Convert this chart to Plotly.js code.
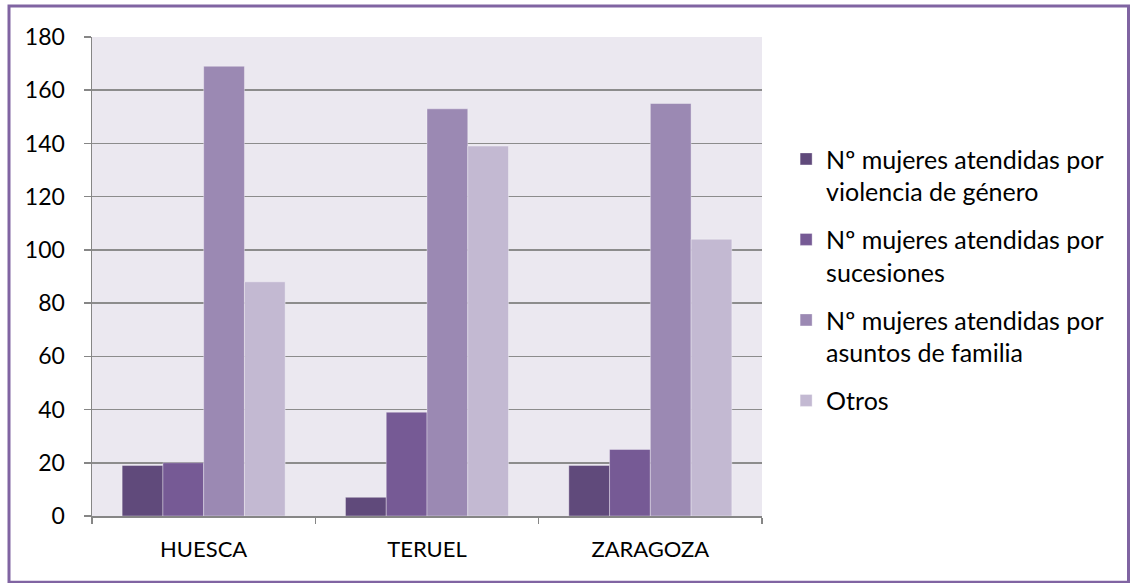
<!DOCTYPE html>
<html>
<head>
<meta charset="utf-8">
<script src="https://cdn.plot.ly/plotly-3.0.1.min.js"></script>
<style>
html,body{margin:0;padding:0;background:#fff;}
#chart{width:1130px;height:583px;}
</style>
</head>
<body>
<div id="chart"></div>
<script>
const categories = ["HUESCA", "TERUEL", "ZARAGOZA"];
const seriesNames = [
  "Nº mujeres atendidas por<br>violencia de género",
  "Nº mujeres atendidas por<br>sucesiones",
  "Nº mujeres atendidas por<br>asuntos de familia",
  "Otros"
];
const violencia = [19, 7, 19];
const sucesiones = [20, 39, 25];
const familia = [169, 153, 155];
const otros = [88, 139, 104];
const yTicks = [0, 20, 40, 60, 80, 100, 120, 140, 160, 180];

const colors = ["#604A7B", "#765A95", "#9B89B3", "#C3B9D2"];
const values = [violencia, sucesiones, familia, otros];

const traces = values.map((v, i) => ({
  type: "bar",
  name: seriesNames[i],
  x: categories,
  y: v,
  legendgroup: "g" + i,
  marker: {color: colors[i], line: {color: "rgba(255,255,255,0.35)", width: 1}},
  hoverinfo: "x+y"
}));

const FONT = "Lato, 'Open Sans', sans-serif";
const layout = {
  width: 1130, height: 583,
  margin: {l: 92, r: 368, t: 37, b: 67, pad: 0},
  paper_bgcolor: "#ffffff",
  plot_bgcolor: "#EBE8F0",
  barmode: "group",
  bargap: 0.27,
  bargroupgap: 0,
  font: {family: FONT, size: 23, color: "#000000"},
  showlegend: true,
  legend: {
    x: 1.036, xanchor: "left",
    y: 0.793, yanchor: "top",
    valign: "top",
    tracegroupgap: 12.5,
    font: {family: FONT, size: 25, color: "#000000"},
    bgcolor: "rgba(0,0,0,0)",
    itemclick: false
  },
  xaxis: {
    type: "category",
    showline: true, linecolor: "#868686", linewidth: 1.5,
    ticks: "outside", tickson: "boundaries", ticklen: 6, tickcolor: "#868686", tickwidth: 1.5,
    showgrid: false,
    tickfont: {family: FONT, size: 22, color: "#000"},
    ticklabelstandoff: 13,
    fixedrange: true
  },
  yaxis: {
    range: [0, 180],
    tickvals: yTicks,
    ticktext: yTicks.map(String),
    showline: true, linecolor: "#868686", linewidth: 1.5,
    ticks: "outside", ticklen: 7, tickcolor: "#868686", tickwidth: 1.5,
    showgrid: true, gridcolor: "#8C8C8C", gridwidth: 1.5,
    zeroline: false,
    tickfont: {family: FONT, size: 23, color: "#000"},
    ticklabelstandoff: 14,
    fixedrange: true
  },
  shapes: [{
    type: "rect", xref: "paper", yref: "paper",
    x0: (9 - 92) / 670, x1: (1128.5 - 92) / 670,
    y0: (515.5 - 581.5) / 478, y1: (515.5 - 6.5) / 478,
    line: {color: "#8064A2", width: 3}, fillcolor: "rgba(0,0,0,0)", layer: "above"
  }]
};

Plotly.newPlot("chart", traces, layout, {displayModeBar: false, staticPlot: true});
</script>
</body>
</html>
